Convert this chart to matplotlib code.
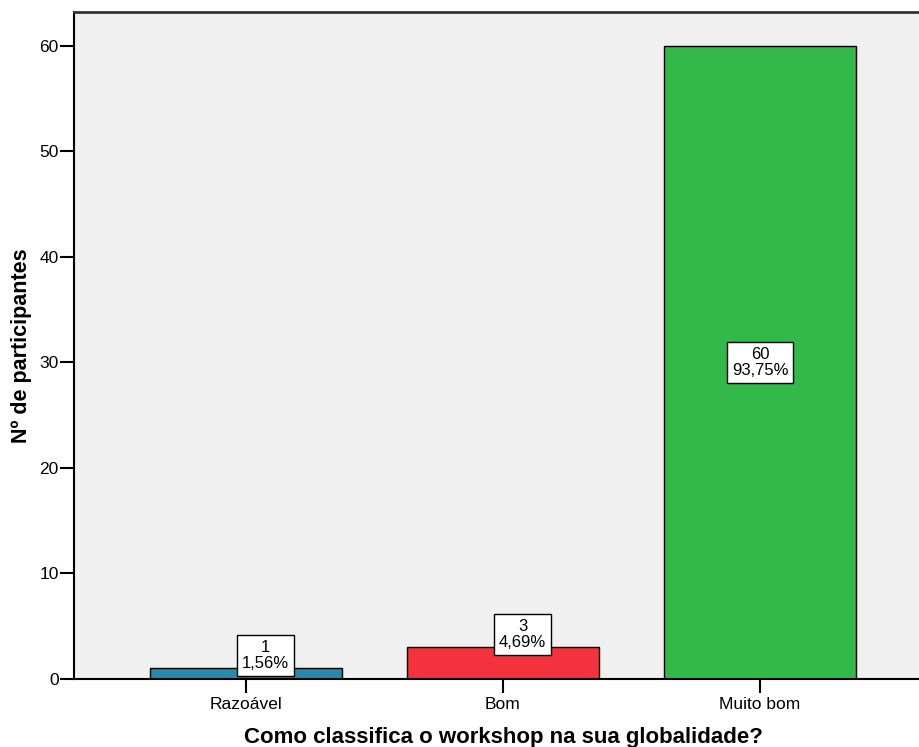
import matplotlib
matplotlib.use("Agg")
import matplotlib.pyplot as plt

plt.rcParams['font.family'] = ['Liberation Sans', 'DejaVu Sans']

categorias = ["Razoável", "Bom", "Muito bom"]
contagens = [1, 3, 60]
percentagens = ["1,56%", "4,69%", "93,75%"]
cores = ["#2689AD", "#F2333D", "#33B84A"]

fig = plt.figure(figsize=(9.2, 7.47), dpi=100)
ax = fig.add_axes([74 / 920, 1 - 679 / 747, (932 - 74) / 920, (679 - 12) / 747])
ax.set_facecolor("#F0F0F0")

x = range(len(categorias))
ax.bar(x, contagens, width=0.75, color=cores, edgecolor="black", linewidth=1.0, zorder=2)

for i, (n, p) in enumerate(zip(contagens, percentagens)):
    # rótulos pequenos ficam por cima da barra, um pouco à direita
    if n / 2 > 3:
        y, dx = n / 2, 0
    else:
        y, dx = n + 1.2, 14
    ax.annotate("%d\n%s" % (n, p), xy=(i, y), xytext=(dx, 0), textcoords="offset points",
                ha="center", va="center", fontsize=12, linespacing=1.1, zorder=3,
                bbox=dict(boxstyle="square,pad=0.3", facecolor="white", edgecolor="black", linewidth=1.0))

ax.set_xlim(-0.669, 2.669)
ax.set_ylim(0, 63.2)
ax.set_yticks([0, 10, 20, 30, 40, 50, 60])
ax.set_xticks(list(x))
ax.set_xticklabels(categorias)
ax.tick_params(axis="both", direction="out", length=10, width=1.5, labelsize=12.5, colors="black")
ax.tick_params(axis="x", pad=3)
ax.tick_params(axis="y", pad=1)

for s in ["left", "bottom"]:
    ax.spines[s].set_linewidth(1.5)
    ax.spines[s].set_color("black")
ax.spines["top"].set_linewidth(2)
ax.spines["top"].set_color("#333333")
ax.spines["right"].set_visible(False)

ax.set_ylabel("Nº de participantes", fontsize=15.5, fontweight="bold", labelpad=5)
ax.set_xlabel("Como classifica o workshop na sua globalidade?", fontsize=16, fontweight="bold", labelpad=11)

fig.savefig("out.png", dpi=100)
